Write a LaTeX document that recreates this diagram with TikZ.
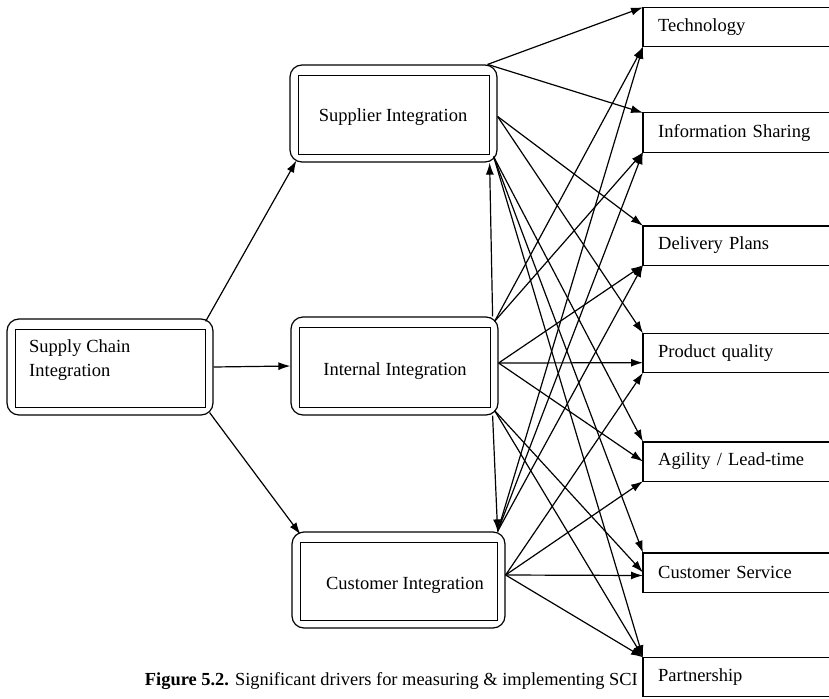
\documentclass[tikz,border=0pt]{standalone}
\usepackage{fontspec}
\setmainfont{Liberation Serif}
\usetikzlibrary{arrows.meta,calc}
\begin{document}
\begin{tikzpicture}[x=1pt,y=-1pt,
  outerbox/.style={draw,rounded corners=12pt,line width=1.2pt,inner sep=0pt},
  innerbox/.style={draw,line width=1.5pt},
  label/.style={font=\fontsize{18.5}{24}\selectfont,inner sep=0pt},
  rbox/.style={anchor=west,minimum width=186pt,minimum height=39pt,text width=156pt,
    inner xsep=15pt,align=left,font=\fontsize{18.5}{22}\selectfont},
  frame/.style={line width=1.4pt},
  conn/.style={-{Latex[length=12pt,width=8pt]},line width=1.2pt}
]
\useasboundingbox (0,0) rectangle (829,698);

% double-framed boxes of the left and middle columns
\node[outerbox,minimum width=206pt,minimum height=96pt] (sci) at (110,367) {};
\node[outerbox,minimum width=207pt,minimum height=97pt] (sup) at (393.5,113.5) {};
\node[outerbox,minimum width=207pt,minimum height=98pt] (int) at (394.5,366) {};
\node[outerbox,minimum width=213pt,minimum height=96pt] (cus) at (398.5,580) {};
\foreach \b in {sci,sup,int,cus}
  \draw[innerbox] ($(\b.north west)+(9,11)$) rectangle ($(\b.south east)+(-8,-8)$);

\node[label,anchor=north west,align=left] (scitext) at (29,339) {Supply Chain\\Integration};
\node[label] (suptext) at (393,117) {Supplier Integration};
\node[label] (inttext) at (395,371) {Internal Integration};
\node[label] (custext) at (405,585) {Customer Integration};

% open-ended boxes of the right column
\node[rbox] (tech)  at (643,27)    {Technology};
\node[rbox] (info)  at (643,132.5) {Information Sharing};
\node[rbox] (deliv) at (643,245.5) {Delivery Plans};
\node[rbox] (prod)  at (643,353)   {Product quality};
\node[rbox] (agil)  at (643,461.5) {Agility / Lead-time};
\node[rbox] (cserv) at (643,572.5) {Customer Service};
\node[rbox] (part)  at (643,677)   {Partnership};
\foreach \b in {tech,info,deliv,prod,agil,cserv,part}
  \draw[frame] (\b.north east) -- (\b.north west) -- (\b.south west) -- (\b.south east);

% from the overall integration to its three dimensions
\draw[conn] ($(sci.north east)+(-8,3)$) -- ($(sup.south west)+(7,-2)$);
\draw[conn] (sci.east) -- (int.west);
\draw[conn] ($(sci.south east)+(-4,-3)$) -- ($(cus.north west)+(9,3)$);

% internal integration feeding the other two
\draw[conn] ($(int.north east)+(-6,0)$) -- ($(sup.south east)+(-8,0)$);
\draw[conn] ($(int.south east)+(-6,0)$) -- ($(cus.north east)+(-8,0)$);

% supplier integration to the drivers
\coordinate (s1) at ($(sup.north east)+(-10,0)$);
\coordinate (s2) at ($(sup.east)+(0,3)$);
\coordinate (s3) at ($(sup.south east)+(-4,-6)$);
\draw[conn] (s1) -- (tech.north west);
\draw[conn] (s1) -- (info.north west);
\draw[conn] (s2) -- (deliv.north west);
\draw[conn] (s2) -- (prod.north west);
\draw[conn] (s3) -- (agil.north west);
\draw[conn] (s3) -- (cserv.north west);
\draw[conn] (s3) -- (part.north west);

% internal integration to the drivers
\coordinate (i1) at ($(int.north east)+(-4,5)$);
\coordinate (i2) at ($(int.east)+(0,-3)$);
\coordinate (i3) at ($(int.south east)+(-4,-5)$);
\draw[conn] (i1) -- (tech.south west);
\draw[conn] (i1) -- (info.south west);
\draw[conn] (i2) -- (deliv.south west);
\draw[conn] (i2) -- ($(prod.south west)+(0,-10)$);
\draw[conn] (i2) -- (agil.west);
\draw[conn] (i3) -- (cserv.west);
\draw[conn] (i3) -- (part.north west);

% customer integration to the drivers
\coordinate (c1) at ($(cus.north east)+(-8,0)$);
\coordinate (c2) at ($(cus.east)+(0,-5)$);
\draw[conn] (c1) -- (tech.south west);
\draw[conn] (c1) -- (info.south west);
\draw[conn] (c1) -- (deliv.south west);
\draw[conn] (c2) -- (prod.south west);
\draw[conn] (c2) -- (agil.south west);
\draw[conn] (c2) -- ($(cserv.west)+(0,3)$);
\draw[conn] (c2) -- (part.north west);

\node[anchor=base east,inner sep=0pt,font=\fontsize{18.4}{22}\selectfont] (caption) at (638,685)
  {\textbf{Figure 5.2.} Significant drivers for measuring \& implementing SCI};
\end{tikzpicture}
\end{document}
